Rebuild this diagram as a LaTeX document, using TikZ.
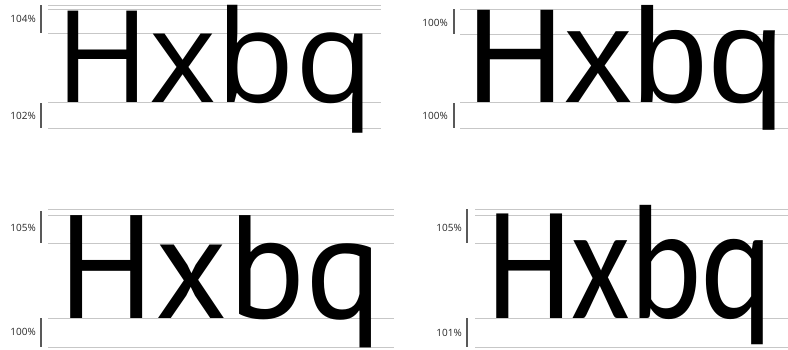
\documentclass[tikz,border=0pt]{standalone}
\usepackage{fontspec}
\setmainfont{Open Sans}
\newfontfamily\fA{Open Sans}
\newfontfamily\fB{Liberation Sans}
\newfontfamily\fC{PT Sans}
\newfontfamily\fD{Carlito}
\begin{document}
\begin{tikzpicture}[x=1pt,y=-1pt,
  guide/.style={draw=black!22,line width=0.9pt},
  bar/.style={draw=black!65,line width=1.2pt},
  pct/.style={anchor=east,inner sep=0pt,font=\fA\fontsize{10}{10}\selectfont,text=black!85},
  word/.style={anchor=base west,inner sep=0pt}]
\useasboundingbox (0,0) rectangle (788,349);
% panel 1
\foreach \y in {5,9,33,102,128} \draw[guide] (48,\y) -- (381,\y);
\draw[bar] (41,5) -- (41,33);
\draw[bar] (41,103) -- (41,128);
\node[pct] (p1a) at (36,19) {104\%};
\node[pct] (p1b) at (36,116) {102\%};
\node[word,font=\fA\fontsize{128}{128}\selectfont] (w1) at (55,102) {Hxbq};
% panel 2
\foreach \y in {9,34,102,128} \draw[guide] (460,\y) -- (788,\y);
\draw[bar] (454,9) -- (454,34);
\draw[bar] (454,103) -- (454,128);
\node[pct] (p2a) at (448,23) {100\%};
\node[pct] (p2b) at (448,116) {100\%};
\node[word,font=\fB\fontsize{134}{134}\selectfont] (w2) at (466,102) {\scalebox{1.015}[1]{Hxbq}};
% panel 3
\foreach \y in {209,215,243,318,347} \draw[guide] (48,\y) -- (394,\y);
\draw[bar] (41,211) -- (41,243);
\draw[bar] (41,318) -- (41,347);
\node[pct] (p3a) at (36,228) {105\%};
\node[pct] (p3b) at (36,332) {100\%};
\node[word,font=\fC\fontsize{147}{147}\selectfont] (w3) at (58,318) {\scalebox{0.975}[1]{Hxbq}};
% panel 4
\foreach \y in {209,215,243,318,347} \draw[guide] (475,\y) -- (788,\y);
\draw[bar] (467,209) -- (467,243);
\draw[bar] (467,318) -- (467,347);
\node[pct] (p4a) at (462,228) {105\%};
\node[pct] (p4b) at (462,333) {101\%};
\node[word,font=\fD\fontsize{163}{163}\selectfont] (w4) at (487,318) {\scalebox{0.83}[1]{Hxbq}};
\end{tikzpicture}
\end{document}
